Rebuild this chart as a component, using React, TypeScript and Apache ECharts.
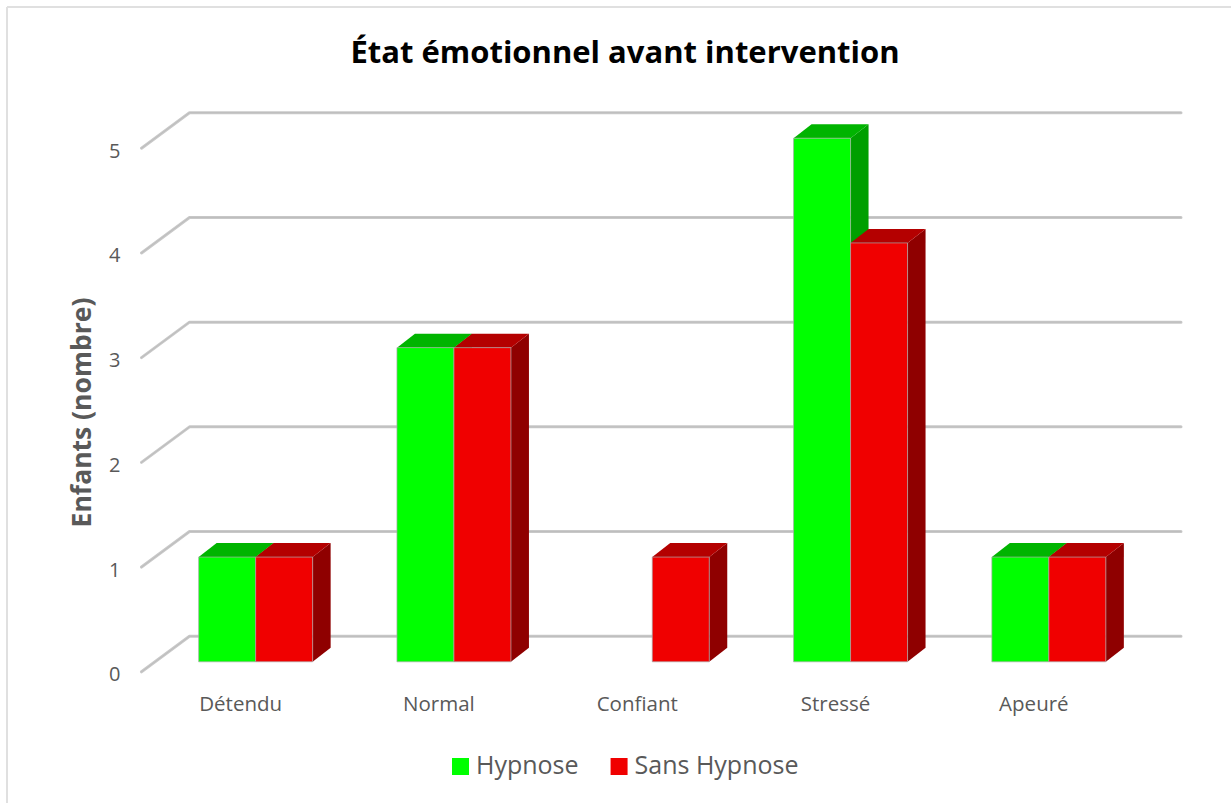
import React, { useEffect, useRef } from "react";
import * as echarts from "echarts";

const categories = ["Détendu", "Normal", "Confiant", "Stressé", "Apeuré"];
const hypnose = [1, 3, 0, 5, 1];
const sansHypnose = [1, 3, 1, 4, 1];
const yTicks = [0, 1, 2, 3, 4, 5];

const FONT = "'Open Sans', sans-serif";
const GRID_L = 141.5, GRID_T = 148.2, GRID_W = 991.5, GRID_H = 523.6;
const WALL = [48, -35.5];
const FRONT = [15, -10];
const DEPTH = [18, -14];
const BAR_W = 57;

function wallRender(params: any, api: any) {
  const p = api.coord([0, api.value(0)]);
  const band = api.size([1, 0])[0];
  const x0 = p[0] - band / 2;
  const y = p[1];
  const x1 = x0 + band * categories.length + WALL[0];
  return {
    type: "group",
    children: [
      {
        type: "polyline",
        shape: { points: [[x0, y], [x0 + WALL[0], y + WALL[1]], [x1, y + WALL[1]]] },
        style: { fill: "none", stroke: "#c9c9c9", lineWidth: 3, lineCap: "round", lineJoin: "round" },
      },
      {
        type: "polyline",
        shape: { points: [[x0, y], [x0 + WALL[0], y + WALL[1]], [x1, y + WALL[1]]] },
        style: { fill: "none", stroke: "#bdbdbd", lineWidth: 1, lineCap: "round", lineJoin: "round" },
      },
    ],
  };
}

function barRender(side: 0 | 1, front: string, top: string, right: string) {
  return (params: any, api: any) => {
    const v = api.value(1);
    if (!v) return { type: "group", children: [] };
    const c = api.coord([api.value(0), v]);
    const b = api.coord([api.value(0), 0]);
    const xl = c[0] + FRONT[0] + (side === 0 ? -BAR_W : 0);
    const xr = xl + BAR_W;
    const yt = c[1] + FRONT[1];
    const yb = b[1] + FRONT[1];
    const [dx, dy] = DEPTH;
    return {
      type: "group",
      children: [
        { type: "polygon", shape: { points: [[xr, yt], [xr + dx, yt + dy], [xr + dx, yb + dy], [xr, yb]] }, style: { fill: right } },
        { type: "polygon", shape: { points: [[xl, yt], [xl + dx, yt + dy], [xr + dx, yt + dy], [xr, yt]] }, style: { fill: top } },
        { type: "rect", shape: { x: xl, y: yt, width: BAR_W, height: yb - yt }, style: { fill: front, stroke: "rgba(170,170,170,0.7)", lineWidth: 1 } },
      ],
    };
  };
}

export default function App() {
  const ref = useRef<HTMLDivElement>(null);
  useEffect(() => {
    const chart = echarts.init(ref.current!, null, { renderer: "svg" });
    chart.setOption({
      animation: false,
      backgroundColor: "#ffffff",
      textStyle: { fontFamily: FONT },
      title: {
        text: "État émotionnel avant intervention",
        left: 620, top: 30, textAlign: "center",
        textStyle: { fontFamily: FONT, fontWeight: "bold", fontSize: 31, color: "#000000" },
      },
      graphic: [
        { type: "line", shape: { x1: 7, y1: 7, x2: 1231, y2: 7 }, style: { stroke: "#e0e0e0", lineWidth: 2 } },
        { type: "line", shape: { x1: 7, y1: 7, x2: 7, y2: 803 }, style: { stroke: "#e0e0e0", lineWidth: 2 } },
      ],
      legend: {
        left: 447, top: 746, itemWidth: 17, itemHeight: 17, itemGap: 32,
        icon: "rect",
        formatter: (name: string) => `{a|${name}}`,
        textStyle: {
          fontFamily: FONT, fontSize: 25, color: "#595959",
          rich: { a: { fontFamily: FONT, fontSize: 25, color: "#595959", padding: [0, 0, 6, 2] } },
        },
        data: ["Hypnose", "Sans Hypnose"],
      },
      grid: { left: GRID_L, top: GRID_T, width: GRID_W, height: GRID_H },
      xAxis: {
        type: "category", data: categories,
        axisLine: { show: false }, axisTick: { show: false },
        axisLabel: { color: "#595959", fontSize: 20.5, fontFamily: FONT, margin: 21 },
      },
      yAxis: {
        type: "value", min: 0, max: 5, interval: 1,
        splitLine: { show: false }, axisLine: { show: false }, axisTick: { show: false },
        axisLabel: { color: "#595959", fontSize: 20, fontFamily: FONT, margin: 21, verticalAlign: "top", lineHeight: 4 },
        name: "Enfants (nombre)", nameLocation: "middle", nameGap: 47,
        nameTextStyle: { color: "#595959", fontSize: 26.5, fontWeight: "bold", fontFamily: FONT, padding: [0, 5, 0, 0] },
      },
      series: [
        { type: "custom", name: "walls", silent: true, z: 1, renderItem: wallRender, data: yTicks.map((t) => [t]), encode: { y: 0 } },
        { type: "custom", name: "Hypnose", z: 2, itemStyle: { color: "#00ff00" }, renderItem: barRender(0, "#00ff00", "#00b400", "#009f00"), data: hypnose.map((v, i) => [i, v]), encode: { x: 0, y: 1 } },
        { type: "custom", name: "Sans Hypnose", z: 3, itemStyle: { color: "#f00000" }, renderItem: barRender(1, "#f00000", "#b40000", "#8f0000"), data: sansHypnose.map((v, i) => [i, v]), encode: { x: 0, y: 1 } },
      ],
    });
    return () => chart.dispose();
  }, []);
  return <div ref={ref} style={{ position: "fixed", left: 0, top: 0, width: 1231, height: 803 }} />;
}
